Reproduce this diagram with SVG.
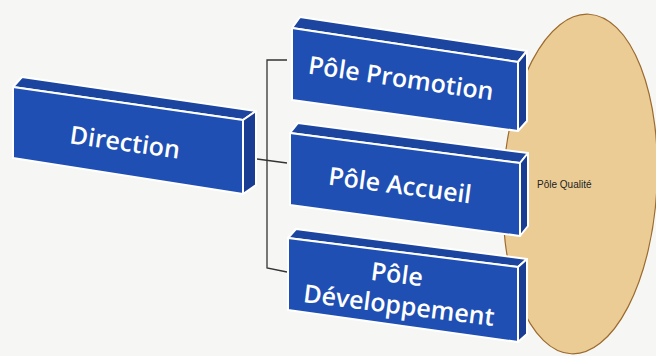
<svg xmlns="http://www.w3.org/2000/svg" width="656" height="356" viewBox="0 0 656 356">
<style>
.front{fill:#1f4fb3;stroke:#ffffff;stroke-width:2;stroke-linejoin:round}
.top{fill:#1b459f;stroke:#ffffff;stroke-width:2;stroke-linejoin:round}
.side{fill:#183d92;stroke:#ffffff;stroke-width:2;stroke-linejoin:round}
.lbl{font-family:"Open Sans","Noto Sans",sans-serif;font-size:25px;font-weight:600;fill:#ffffff;text-anchor:middle}
.conn{fill:none;stroke:#333333;stroke-width:1.3}
</style>
<rect x="0" y="0" width="656" height="356" fill="#f6f7f5"/>
<g id="pole-qualite">
<ellipse cx="580" cy="184" rx="77" ry="170" transform="rotate(3 580 184)" fill="#ebcc95" stroke="#9c6a2e" stroke-width="1.2"/>
<text x="537" y="188" font-family="'Liberation Sans',sans-serif" font-size="10" fill="#222222">Pôle Qualité</text>
</g>
<g id="connectors">
<path class="conn" d="M287 60 H267 V268 L287 272"/>
<path class="conn" d="M257 159 L287 163"/>
</g>
<g id="direction">
<polygon class="top" points="13,87 22,77 256,111 243,120"/>
<polygon class="side" points="243,120 256,111 256,185 243,194"/>
<polygon class="front" points="13,87 243,120 243,194 13,158"/>
<text class="lbl" transform="translate(125,142) rotate(8)" y="9">Direction</text>
</g>
<g id="pole-promotion">
<polygon class="top" points="292,28 300,17 527,51 518,62"/>
<polygon class="side" points="518,62 527,51 527,121 518,131"/>
<polygon class="front" points="292,28 518,62 518,131 292,100"/>
<text class="lbl" transform="translate(401,78) rotate(8.3)" y="9">Pôle Promotion</text>
</g>
<g id="pole-accueil">
<polygon class="top" points="290,133 298,123 528,153 520,163"/>
<polygon class="side" points="520,163 528,153 528,226 520,236"/>
<polygon class="front" points="290,133 520,163 520,236 290,205"/>
<text class="lbl" transform="translate(400,185) rotate(7.5)" y="9">Pôle Accueil</text>
</g>
<g id="pole-developpement">
<polygon class="top" points="288,238 296,229 527,259 518,267"/>
<polygon class="side" points="518,267 527,259 527,334 518,342"/>
<polygon class="front" points="288,238 518,267 518,342 288,310"/>
<text class="lbl" transform="translate(397,274) rotate(7.2)" y="9">Pôle</text>
<text class="lbl" transform="translate(399,305) rotate(7.2)" y="9">Développement</text>
</g>
</svg>
